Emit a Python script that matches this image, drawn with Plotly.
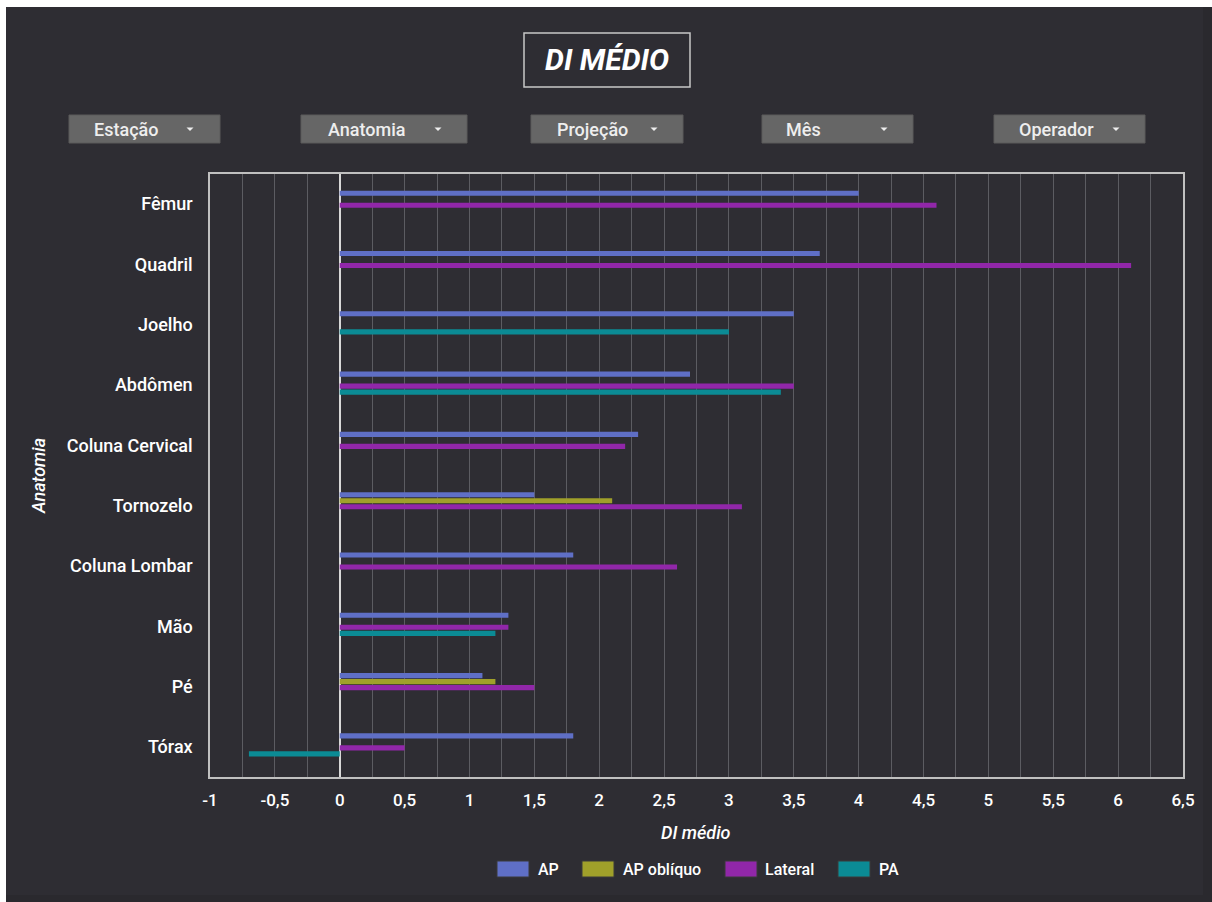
import plotly.graph_objects as go

categories = ["Fêmur", "Quadril", "Joelho", "Abdômen", "Coluna Cervical",
              "Tornozelo", "Coluna Lombar", "Mão", "Pé", "Tórax"]

series_names = ["AP", "AP oblíquo", "Lateral", "PA"]
series_colors = ["#5f6fc6", "#a0a02a", "#9127a9", "#0b8b95"]

ap = [4.0, 3.7, 3.5, 2.7, 2.3, 1.5, 1.8, 1.3, 1.1, 1.8]
ap_obliquo = [None, None, None, None, None, 2.1, None, None, 1.2, None]
lateral = [4.6, 6.1, None, 3.5, 2.2, 3.1, 2.6, 1.3, 1.5, 0.5]
pa = [None, None, 3.0, 3.4, None, None, None, 1.2, None, -0.7]
series_values = [ap, ap_obliquo, lateral, pa]

x_tick_values = [-1, -0.5, 0, 0.5, 1, 1.5, 2, 2.5, 3, 3.5, 4, 4.5, 5, 5.5, 6, 6.5]
x_tick_labels = ["-1", "-0,5", "0", "0,5", "1", "1,5", "2", "2,5", "3", "3,5",
                 "4", "4,5", "5", "5,5", "6", "6,5"]

filters = ["Estação", "Anatomia", "Projeção", "Mês", "Operador"]

W, H = 1212, 902
L, R, T, B = 210, 1183, 174, 777
PW, PH = R - L, B - T


def px(x):
    return (x - L) / PW


def py(y):
    return (B - y) / PH


FONT = "Roboto"
BG = "#2e2d33"

fig = go.Figure()

bar_offsets = [-0.224, -0.124, -0.025, 0.075]
for name, color, vals, off in zip(series_names, series_colors, series_values, bar_offsets):
    fig.add_trace(go.Bar(
        y=categories, x=vals, name=name, orientation="h",
        marker=dict(color=color, line=dict(width=0)),
        offset=off, width=0.085, showlegend=False,
    ))

shapes = []
annotations = []

# background panel
shapes.append(dict(type="rect", xref="paper", yref="paper", layer="below",
                   x0=px(0), x1=px(W), y0=py(0), y1=py(H),
                   fillcolor="#ffffff", line=dict(width=0)))
shapes.append(dict(type="rect", xref="paper", yref="paper", layer="below",
                   x0=px(6), x1=px(W), y0=py(7), y1=py(H),
                   fillcolor="#2a292e", line=dict(width=0)))
shapes.append(dict(type="rect", xref="paper", yref="paper", layer="below",
                   x0=px(6), x1=px(1203), y0=py(7), y1=py(895),
                   fillcolor=BG, line=dict(width=0)))

# title box
shapes.append(dict(type="rect", xref="paper", yref="paper",
                   x0=px(524), x1=px(690), y0=py(33), y1=py(87),
                   line=dict(color="#c8c8c8", width=1.5)))
annotations.append(dict(x=px(607), y=py(60), xref="paper", yref="paper",
                        text="<b><i>DI MÉDIO</i></b>", showarrow=False,
                        font=dict(family=FONT, size=30, color="#ffffff"),
                        xanchor="center", yanchor="middle"))

# filter dropdown boxes
boxes = [(69, 220, 126, 190), (301, 467, 366, 438), (531, 683, 592, 654),
         (762, 913, 803, 884), (994, 1145, 1056, 1116)]
for label, (x0, x1, tx, ax) in zip(filters, boxes):
    shapes.append(dict(type="rect", xref="paper", yref="paper",
                       x0=px(x0), x1=px(x1), y0=py(115), y1=py(143),
                       fillcolor="#666666", line=dict(color="#5a5a5a", width=1)))
    shapes.append(dict(type="path", xref="paper", yref="paper",
                       path=f"M {px(ax-3.5)} {py(127.5)} L {px(ax+3.5)} {py(127.5)} L {px(ax)} {py(131)} Z",
                       fillcolor="#eeeeee", line=dict(width=0)))
    annotations.append(dict(x=px(tx), y=py(129), xref="paper", yref="paper",
                            text=label, showarrow=False,
                            font=dict(family=FONT, size=18, color="#eeeeee", weight=500),
                            xanchor="center", yanchor="middle"))

# axis titles
annotations.append(dict(x=px(696), y=py(832), xref="paper", yref="paper",
                        text="<i>DI médio</i>", showarrow=False,
                        font=dict(family=FONT, size=18, color="#ffffff", weight=500),
                        xanchor="center", yanchor="middle"))
annotations.append(dict(x=px(39), y=py(476), xref="paper", yref="paper",
                        text="<i>Anatomia</i>", showarrow=False, textangle=-90,
                        font=dict(family=FONT, size=18, color="#ffffff", weight=500),
                        xanchor="center", yanchor="middle"))

# manual legend
legend_pos = [(497, 536), (582, 621), (725, 763), (838, 877)]
for name, color, (sx, tx) in zip(series_names, series_colors, legend_pos):
    shapes.append(dict(type="rect", xref="paper", yref="paper",
                       x0=px(sx), x1=px(sx + 32), y0=py(861), y1=py(877),
                       fillcolor=color, line=dict(color="#3a3a3a", width=1)))
    annotations.append(dict(x=px(tx), y=py(869), xref="paper", yref="paper",
                            text=name, showarrow=False,
                            font=dict(family=FONT, size=16, color="#ffffff", weight=500),
                            xanchor="left", yanchor="middle"))

fig.update_layout(
    width=W, height=H,
    margin=dict(l=L, r=W - R, t=T, b=H - B, autoexpand=False),
    paper_bgcolor=BG, plot_bgcolor=BG,
    barmode="overlay",
    separators=", ",
    font=dict(family=FONT, color="#ffffff"),
    shapes=shapes, annotations=annotations,
    showlegend=False,
    xaxis=dict(
        range=[-1, 6.5], tickmode="array",
        tickvals=x_tick_values, ticktext=x_tick_labels,
        showgrid=True, gridcolor="#5c5c62", gridwidth=1,
        minor=dict(dtick=0.25, tick0=0, showgrid=True, gridcolor="#5c5c62", gridwidth=1),
        zeroline=True, zerolinecolor="#d8d8d8", zerolinewidth=1.5,
        showline=True, mirror=True, linecolor="#c0c0c0", linewidth=1.5,
        ticks="", ticklabelstandoff=7,
        tickfont=dict(family=FONT, size=17, color="#ffffff", weight=500),
        fixedrange=True,
    ),
    yaxis=dict(
        categoryorder="array", categoryarray=categories,
        autorange="reversed",
        showgrid=False, zeroline=False,
        showline=True, mirror=True, linecolor="#c0c0c0", linewidth=1.5,
        ticks="", ticklabelstandoff=12,
        tickfont=dict(family=FONT, size=18, color="#ffffff", weight=500),
        fixedrange=True,
    ),
)

fig.write_html("out.html", config={"displayModeBar": False})
